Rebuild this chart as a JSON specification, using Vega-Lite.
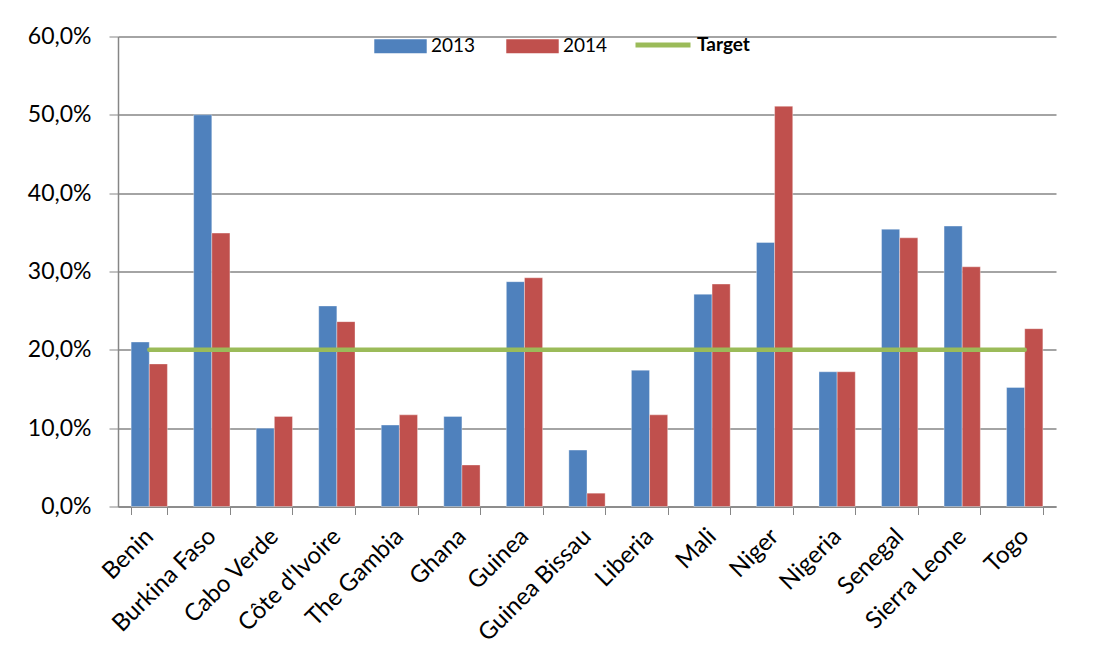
{
  "$schema": "https://vega.github.io/schema/vega-lite/v6.json",
  "width": 938,
  "height": 470,
  "padding": {"left": 27, "top": 14.5, "right": 50, "bottom": 10},
  "background": "white",
  "config": {
    "font": "Lato",
    "view": {"stroke": null},
    "axis": {"labelFont": "Lato", "labelColor": "#000", "domainColor": "#868686", "tickColor": "#868686", "gridColor": "#868686", "titleFont": "Lato"},
    "legend": {"labelFont": "Lato", "labelColor": "#000"}
  },
  "datasets": {
    "bars": [
      {"country": "Benin", "year": "2013", "value": 0.210},
      {"country": "Benin", "year": "2014", "value": 0.182},
      {"country": "Burkina Faso", "year": "2013", "value": 0.500},
      {"country": "Burkina Faso", "year": "2014", "value": 0.349},
      {"country": "Cabo Verde", "year": "2013", "value": 0.100},
      {"country": "Cabo Verde", "year": "2014", "value": 0.115},
      {"country": "Côte d'Ivoire", "year": "2013", "value": 0.256},
      {"country": "Côte d'Ivoire", "year": "2014", "value": 0.236},
      {"country": "The Gambia", "year": "2013", "value": 0.104},
      {"country": "The Gambia", "year": "2014", "value": 0.117},
      {"country": "Ghana", "year": "2013", "value": 0.115},
      {"country": "Ghana", "year": "2014", "value": 0.053},
      {"country": "Guinea", "year": "2013", "value": 0.287},
      {"country": "Guinea", "year": "2014", "value": 0.292},
      {"country": "Guinea Bissau", "year": "2013", "value": 0.072},
      {"country": "Guinea Bissau", "year": "2014", "value": 0.017},
      {"country": "Liberia", "year": "2013", "value": 0.174},
      {"country": "Liberia", "year": "2014", "value": 0.117},
      {"country": "Mali", "year": "2013", "value": 0.271},
      {"country": "Mali", "year": "2014", "value": 0.284},
      {"country": "Niger", "year": "2013", "value": 0.337},
      {"country": "Niger", "year": "2014", "value": 0.511},
      {"country": "Nigeria", "year": "2013", "value": 0.172},
      {"country": "Nigeria", "year": "2014", "value": 0.172},
      {"country": "Senegal", "year": "2013", "value": 0.354},
      {"country": "Senegal", "year": "2014", "value": 0.343},
      {"country": "Sierra Leone", "year": "2013", "value": 0.358},
      {"country": "Sierra Leone", "year": "2014", "value": 0.306},
      {"country": "Togo", "year": "2013", "value": 0.152},
      {"country": "Togo", "year": "2014", "value": 0.227}
    ],
    "target": [
      {"country": "Benin", "target": 0.2},
      {"country": "Burkina Faso", "target": 0.2},
      {"country": "Cabo Verde", "target": 0.2},
      {"country": "Côte d'Ivoire", "target": 0.2},
      {"country": "The Gambia", "target": 0.2},
      {"country": "Ghana", "target": 0.2},
      {"country": "Guinea", "target": 0.2},
      {"country": "Guinea Bissau", "target": 0.2},
      {"country": "Liberia", "target": 0.2},
      {"country": "Mali", "target": 0.2},
      {"country": "Niger", "target": 0.2},
      {"country": "Nigeria", "target": 0.2},
      {"country": "Senegal", "target": 0.2},
      {"country": "Sierra Leone", "target": 0.2},
      {"country": "Togo", "target": 0.2}
    ]
  },
  "layer": [
    {
      "data": {"name": "bars"},
      "mark": {"type": "bar", "stroke": "#ffffff", "strokeWidth": 0.6, "strokeOpacity": 0.6},
      "encoding": {
        "x": {
          "field": "country", "type": "nominal", "sort": null, "title": null,
          "scale": {"paddingInner": 0.42, "paddingOuter": 0.21},
          "axis": {"labelAngle": -45, "labelAlign": "right", "labelBaseline": "middle", "labelFontSize": 24, "labelPadding": 18, "tickBand": "extent", "tickSize": 8, "domainWidth": 1.5, "labelLimit": 300}
        },
        "xOffset": {"field": "year", "type": "nominal", "scale": {"paddingInner": 0, "paddingOuter": 0}},
        "y": {
          "field": "value", "type": "quantitative", "title": null,
          "scale": {"domain": [0, 0.6], "nice": false},
          "axis": {"values": [0, 0.1, 0.2, 0.3, 0.4, 0.5, 0.6], "labelExpr": "replace(format(datum.value, '.1%'), '.', ',')", "labelFontSize": 23, "tickSize": 9, "labelPadding": 18, "grid": true, "gridWidth": 1.5, "domainWidth": 1.5}
        },
        "fill": {
          "field": "year", "type": "nominal",
          "scale": {"domain": ["2013", "2014"], "range": ["#4F81BD", "#C0504D"]},
          "legend": {"orient": "none", "legendX": 256, "legendY": -17, "direction": "horizontal", "title": null, "symbolType": "M-1,-0.27H1V0.27H-1Z", "symbolSize": 2750, "symbolStrokeWidth": 0, "labelFontSize": 19, "labelOffset": 4, "columnPadding": 30}
        }
      }
    },
    {
      "data": {"name": "target"},
      "mark": {"type": "line", "strokeWidth": 4.5, "strokeCap": "round"},
      "encoding": {
        "x": {"field": "country", "type": "nominal", "sort": null},
        "y": {"field": "target", "type": "quantitative"},
        "stroke": {
          "datum": "Target",
          "scale": {"domain": ["Target"], "range": ["#9BBB59"]},
          "legend": {"orient": "none", "legendX": 515, "legendY": -21.5, "title": null, "symbolType": "stroke", "symbolSize": 3025, "symbolStrokeWidth": 5, "labelFontSize": 19, "labelFontWeight": "bold", "labelOffset": 4}
        }
      }
    }
  ]
}
